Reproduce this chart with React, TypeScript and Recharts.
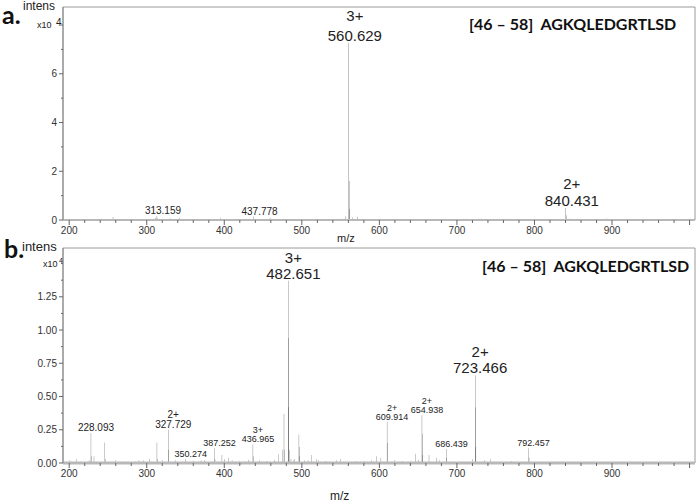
import React from "react";
import { BarChart, Bar, XAxis, YAxis, ReferenceArea, ReferenceDot } from "recharts";

const FONT = "'Liberation Sans', Arial, Helvetica, sans-serif";
const TITLE_FONT = "Lato, 'Open Sans', sans-serif";
const PEPTIDE = "[46 – 58]  AGKQLEDGRTLSD";

// shared m/z axis
const MZ_DOMAIN: [number, number] = [192, 1007];
const mzLabels = [200, 300, 400, 500, 600, 700, 800, 900];
const mzMajor = [200, 300, 400, 500, 600, 700, 800, 900, 1000];
const mzTicks = Array.from({ length: 41 }, (_, i) => 200 + i * 20);

// panel a, intensity in x10^4
const intensMaxA = 8.74;
const intensLabelsA = [0, 2, 4, 6];
const intensMinorA = [1, 3, 5, 7, 8];
const peaksA = [
  { mz: 201, i: 0.04 }, { mz: 214, i: 0.03 }, { mz: 229, i: 0.04 }, { mz: 242, i: 0.05 },
  { mz: 256.5, i: 0.12 }, { mz: 271, i: 0.03 }, { mz: 288, i: 0.04 }, { mz: 300, i: 0.03 },
  { mz: 311.2, i: 0.09 }, { mz: 313.159, i: 0.15 }, { mz: 314.2, i: 0.06 }, { mz: 330, i: 0.07 },
  { mz: 342, i: 0.08 }, { mz: 357, i: 0.03 }, { mz: 370, i: 0.04 }, { mz: 381, i: 0.04 },
  { mz: 395, i: 0.09 }, { mz: 412, i: 0.03 }, { mz: 425, i: 0.04 }, { mz: 432, i: 0.05 },
  { mz: 437.778, i: 0.14 }, { mz: 446, i: 0.04 }, { mz: 459, i: 0.08 }, { mz: 474, i: 0.03 },
  { mz: 490, i: 0.03 }, { mz: 507, i: 0.03 }, { mz: 523, i: 0.04 }, { mz: 540, i: 0.03 },
  { mz: 551, i: 0.05 }, { mz: 556, i: 0.14 }, { mz: 560.629, i: 7.27 }, { mz: 560.96, i: 1.6 },
  { mz: 561.3, i: 0.45 }, { mz: 565, i: 0.1 }, { mz: 572, i: 0.13 }, { mz: 580, i: 0.04 },
  { mz: 600, i: 0.03 }, { mz: 622, i: 0.03 }, { mz: 648, i: 0.04 }, { mz: 678, i: 0.04 },
  { mz: 690, i: 0.03 }, { mz: 732, i: 0.05 }, { mz: 764, i: 0.05 }, { mz: 772, i: 0.04 },
  { mz: 800, i: 0.03 }, { mz: 820, i: 0.03 }, { mz: 840.431, i: 0.49 }, { mz: 840.93, i: 0.2 },
  { mz: 845, i: 0.05 }, { mz: 858, i: 0.04 }, { mz: 893, i: 0.06 }, { mz: 930, i: 0.02 },
];
const labelsA = [
  { mz: 560.629, i: 7.27, charge: "3+" },
  { mz: 840.431, i: 0.49, charge: "2+" },
  { mz: 313.159, i: 0.15, charge: "" },
  { mz: 437.778, i: 0.14, charge: "" },
];

// panel b, intensity in x10^4
const intensMaxB = 1.617;
const intensLabelsB = [0, 0.25, 0.5, 0.75, 1.0, 1.25];
const intensMinorB = [0.125, 0.375, 0.625, 0.875, 1.125, 1.375, 1.5];
const peaksB = [
  { mz: 201, i: 0.02 }, { mz: 209, i: 0.03 }, { mz: 226, i: 0.02 }, { mz: 228.093, i: 0.225 },
  { mz: 229.1, i: 0.05 }, { mz: 232, i: 0.05 }, { mz: 245.9, i: 0.155 }, { mz: 247, i: 0.03 },
  { mz: 260, i: 0.02 }, { mz: 275, i: 0.01 }, { mz: 290, i: 0.02 }, { mz: 296, i: 0.02 },
  { mz: 304, i: 0.03 }, { mz: 313.2, i: 0.155 }, { mz: 314.2, i: 0.03 }, { mz: 320, i: 0.02 },
  { mz: 327.729, i: 0.25 }, { mz: 328.2, i: 0.1 }, { mz: 337, i: 0.02 }, { mz: 350.274, i: 0.03 },
  { mz: 360, i: 0.015 }, { mz: 370, i: 0.02 }, { mz: 375, i: 0.02 }, { mz: 387.252, i: 0.11 },
  { mz: 388, i: 0.03 }, { mz: 397, i: 0.06 }, { mz: 400, i: 0.03 }, { mz: 405, i: 0.04 },
  { mz: 410, i: 0.02 }, { mz: 420, i: 0.015 }, { mz: 431, i: 0.025 }, { mz: 436.965, i: 0.14 },
  { mz: 437.3, i: 0.05 }, { mz: 445, i: 0.02 }, { mz: 455, i: 0.015 }, { mz: 465, i: 0.025 },
  { mz: 470, i: 0.065 }, { mz: 475, i: 0.1 }, { mz: 477.0, i: 0.37 }, { mz: 477.5, i: 0.1 },
  { mz: 482.651, i: 1.37 }, { mz: 482.98, i: 0.94 }, { mz: 483.32, i: 0.42 }, { mz: 484, i: 0.1 },
  { mz: 486, i: 0.03 }, { mz: 489, i: 0.02 }, { mz: 491, i: 0.03 }, { mz: 496.3, i: 0.215 },
  { mz: 496.6, i: 0.12 }, { mz: 497.3, i: 0.05 }, { mz: 503, i: 0.02 }, { mz: 508, i: 0.02 },
  { mz: 512, i: 0.06 }, { mz: 519, i: 0.03 }, { mz: 521, i: 0.02 }, { mz: 530, i: 0.015 },
  { mz: 545, i: 0.02 }, { mz: 550, i: 0.03 }, { mz: 570, i: 0.015 }, { mz: 581, i: 0.015 },
  { mz: 590, i: 0.02 }, { mz: 596, i: 0.05 }, { mz: 602, i: 0.04 }, { mz: 609.914, i: 0.31 },
  { mz: 610.4, i: 0.15 }, { mz: 620, i: 0.02 }, { mz: 630, i: 0.015 }, { mz: 640, i: 0.015 },
  { mz: 647, i: 0.07 }, { mz: 650, i: 0.025 }, { mz: 654.938, i: 0.36 }, { mz: 655.4, i: 0.22 },
  { mz: 656, i: 0.06 }, { mz: 664, i: 0.06 }, { mz: 674, i: 0.04 }, { mz: 678, i: 0.02 },
  { mz: 686.439, i: 0.105 }, { mz: 686.9, i: 0.04 }, { mz: 720, i: 0.03 }, { mz: 723.466, i: 0.66 },
  { mz: 723.97, i: 0.42 }, { mz: 724.5, i: 0.12 }, { mz: 736, i: 0.02 }, { mz: 743, i: 0.03 },
  { mz: 755, i: 0.01 }, { mz: 770, i: 0.015 }, { mz: 792.457, i: 0.11 }, { mz: 793, i: 0.04 },
  { mz: 800, i: 0.01 }, { mz: 860, i: 0.01 }, { mz: 900, i: 0.01 }, { mz: 925, i: 0.01 },
];
const labelsB = [
  { mz: 482.651, i: 1.37, charge: "3+" },
  { mz: 723.466, i: 0.66, charge: "2+" },
  { mz: 228.093, i: 0.225, charge: "" },
  { mz: 327.729, i: 0.25, charge: "2+" },
  { mz: 350.274, i: 0.03, charge: "" },
  { mz: 387.252, i: 0.11, charge: "" },
  { mz: 436.965, i: 0.14, charge: "3+" },
  { mz: 609.914, i: 0.31, charge: "2+" },
  { mz: 654.938, i: 0.36, charge: "2+" },
  { mz: 686.439, i: 0.105, charge: "" },
  { mz: 792.457, i: 0.11, charge: "" },
];

const TICK_SIZE = 4;
const TICK_GAP = 3;

const MzTick = ({ size }: { size: number }) => (props: any) => {
  const { x, y, payload } = props;
  const axisY = y - TICK_SIZE - TICK_GAP;
  const v = payload.value;
  const major = mzMajor.includes(v);
  return (
    <g>
      <line x1={x} x2={x} y1={axisY} y2={axisY + (major ? 5 : 3)} stroke="#666" />
      {mzLabels.includes(v) && (
        <text x={x} y={y} dy="0.71em" textAnchor="middle" fontSize={size} fill="#333" fontFamily={FONT}>
          {v}
        </text>
      )}
    </g>
  );
};

const IntensTick = (labels: number[], fmt: (v: number) => string) => (props: any) => {
  const { x, y, payload } = props;
  const axisX = x + TICK_SIZE + TICK_GAP;
  const v = payload.value;
  const major = labels.includes(v);
  return (
    <g>
      <line x1={axisX} x2={axisX - (major ? 4 : 2)} y1={y} y2={y} stroke="#666" />
      {major && (
        <text x={axisX - 6} y={y} dy="0.355em" textAnchor="end" fontSize={10} fill="#333" fontFamily={FONT}>
          {fmt(v)}
        </text>
      )}
    </g>
  );
};

const peakLabel = (text: string, charge: string, size: number, gap: number, dx: number) => (props: any) => {
  const vb = props.viewBox || {};
  const cx = (vb.x ?? 0) + (vb.width ?? 0) / 2 + dx;
  const cy = (vb.y ?? 0) + (vb.height ?? 0) / 2;
  return (
    <g fontFamily={FONT} fill="#222" textAnchor="middle" fontSize={size}>
      <text x={cx} y={cy - 2}>{text}</text>
      {charge && <text x={cx} y={cy - 2 - gap}>{charge}</text>}
    </g>
  );
};

// label font size / line gap, by mz
const labelLook: Record<string, [number, number]> = {
  "560.629": [15, 20], "840.431": [15, 17], "313.159": [10, 10], "437.778": [10, 10],
  "482.651": [15, 16], "723.466": [15, 16], "228.093": [10, 10], "327.729": [10, 10],
};

const Spectrum = (p: {
  height: number; top: number; xAxisHeight: number; yMax: number;
  peaks: { mz: number; i: number }[]; labels: { mz: number; i: number; charge: string }[];
  yTicks: number[]; yLabels: number[]; yFmt: (v: number) => string; baseWidth: number; dx: number;
}) => (
  <BarChart
    width={697}
    height={p.height}
    data={p.peaks}
    margin={{ top: p.top, right: 2, left: 0, bottom: 0 }}
    barCategoryGap={0}
  >
    <XAxis
      dataKey="mz"
      type="number"
      domain={MZ_DOMAIN}
      allowDataOverflow
      ticks={mzTicks}
      interval={0}
      height={p.xAxisHeight}
      tickSize={TICK_SIZE}
      tickMargin={TICK_GAP}
      tickLine={false}
      tick={MzTick({ size: 10 })}
      axisLine={{ stroke: "#b8b8b8", strokeWidth: p.baseWidth }}
    />
    <YAxis
      type="number"
      domain={[0, p.yMax]}
      allowDataOverflow
      ticks={p.yTicks}
      interval={0}
      width={63}
      tickSize={TICK_SIZE}
      tickMargin={TICK_GAP}
      tickLine={false}
      tick={IntensTick(p.yLabels, p.yFmt)}
      axisLine={{ stroke: "#888" }}
    />
    <ReferenceArea x1={MZ_DOMAIN[0]} x2={MZ_DOMAIN[1]} y1={0} y2={p.yMax} fill="none" stroke="#9a9a9a" />
    <Bar dataKey="i" fill="#000" barSize={1.7} isAnimationActive={false} />
    {p.labels.map((l) => {
      const text = l.mz.toFixed(3);
      const [size, gap] = labelLook[text] || [9, 9];
      return (
        <ReferenceDot
          key={text}
          x={l.mz}
          y={l.i}
          r={1}
          fill="none"
          stroke="none"
          label={peakLabel(text, l.charge, size, gap, p.dx)}
        />
      );
    })}
  </BarChart>
);

export default function App() {
  const allA = [...intensLabelsA, ...intensMinorA].sort((a, b) => a - b);
  const allB = [...intensLabelsB, ...intensMinorB].sort((a, b) => a - b);
  return (
    <div style={{ position: "fixed", left: 0, top: 0, width: 697, height: 502, background: "#fff", overflow: "hidden" }}>
      <div style={{ position: "absolute", left: 0, top: 0 }}>
        <Spectrum
          height={245}
          top={7}
          xAxisHeight={25}
          yMax={intensMaxA}
          peaks={peaksA}
          labels={labelsA}
          yTicks={allA}
          yLabels={intensLabelsA}
          yFmt={(v) => String(v)}
          baseWidth={2}
          dx={6}
        />
      </div>
      <div style={{ position: "absolute", left: 0, top: 240 }}>
        <Spectrum
          height={262}
          top={8}
          xAxisHeight={39}
          yMax={intensMaxB}
          peaks={peaksB}
          labels={labelsB}
          yTicks={allB}
          yLabels={intensLabelsB}
          yFmt={(v) => v.toFixed(2)}
          baseWidth={3}
          dx={5}
        />
      </div>
      <svg width={697} height={502} style={{ position: "absolute", left: 0, top: 0, pointerEvents: "none" }}>
        <g fontFamily={TITLE_FONT} fontWeight={700} fill="#111">
          <text x={2} y={24} fontSize={25}>a.</text>
          <text x={4} y={258} fontSize={25}>b.</text>
          <text x={469} y={30} fontSize={16} style={{ whiteSpace: "pre" }}>{PEPTIDE}</text>
          <text x={482} y={272} fontSize={16} style={{ whiteSpace: "pre" }}>{PEPTIDE}</text>
        </g>
        <g fontFamily={FONT} fill="#222">
          <text x={23} y={10} fontSize={12}>intens</text>
          <text x={37} y={28} fontSize={9}>x10</text>
          <text x={56} y={26} fontSize={10}>4</text>
          <text x={22} y={251} fontSize={13}>intens</text>
          <text x={43} y={267} fontSize={9}>x10</text>
          <text x={59} y={263} fontSize={7}>4</text>
          <text x={337} y={242} fontSize={11}>m/z</text>
          <text x={330} y={500} fontSize={12}>m/z</text>
        </g>
      </svg>
    </div>
  );
}
